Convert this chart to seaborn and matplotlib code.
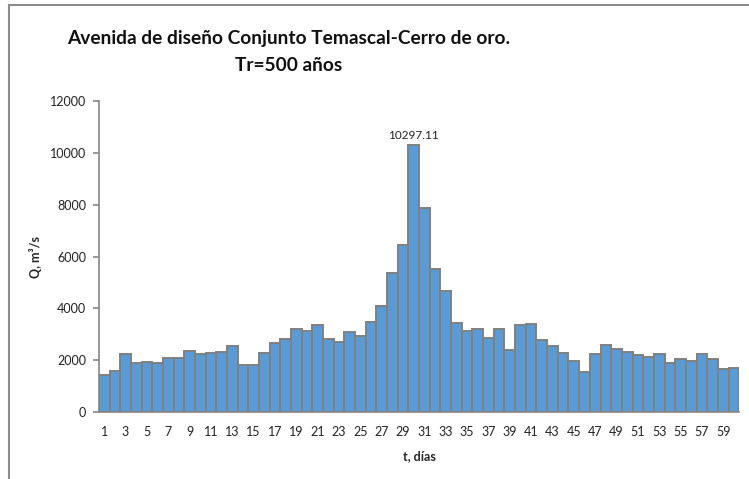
import pandas as pd
import matplotlib
matplotlib.use('Agg')
import matplotlib.pyplot as plt
import seaborn as sns
from matplotlib.patches import Rectangle

# Datos: caudal diario de la avenida de diseño (Tr=500 años)
dias = list(range(1, 61))
caudal = [1444, 1583, 2227, 1880, 1930, 1880, 2100, 2100, 2355, 2227,
          2277, 2316, 2563, 1830, 1830, 2265, 2663, 2818, 3204, 3127,
          3347, 2818, 2690, 3076, 2950, 3462, 4080, 5365, 6435, 10297.11,
          7874, 5535, 4680, 3440, 3127, 3217, 2870, 3217, 2408, 3360,
          3398, 2780, 2537, 2277, 1983, 1545, 2240, 2576, 2434, 2316,
          2190, 2137, 2227, 1893, 2060, 1983, 2227, 2047, 1674, 1713]
etiquetas_x = [str(d) for d in dias[::2]]
ticks_y = [0, 2000, 4000, 6000, 8000, 10000, 12000]

df = pd.DataFrame({'dia': dias, 'Q': caudal})

sns.set_theme(style='white')
plt.rcParams['font.family'] = ['Lato', 'DejaVu Sans']

fig = plt.figure(figsize=(7.49, 4.79), dpi=100)
ax = fig.add_axes([0.132, 0.140, 0.855, 0.649])

sns.barplot(data=df, x='dia', y='Q', color='#5B9BD5', saturation=1,
            width=1.0, edgecolor='#808080', linewidth=1.4, ax=ax)

# etiqueta solo en el pico
pico = df['Q'].idxmax()
labels = ['' if i != pico else f'{df.loc[i, "Q"]:.2f}' for i in range(len(df))]
ax.bar_label(ax.containers[0], labels=labels, padding=3, fontsize=8.5, color='#222222')

ax.set_xlim(-0.5, len(dias) - 0.5)
ax.set_ylim(0, 12000)
ax.set_yticks(ticks_y)
ax.set_yticklabels([str(t) for t in ticks_y])
ax.set_xticks(range(0, len(dias), 2))
ax.set_xticklabels(etiquetas_x)

for s in ['top', 'right']:
    ax.spines[s].set_visible(False)
for s in ['left', 'bottom']:
    ax.spines[s].set_color('#868686')
    ax.spines[s].set_linewidth(1.2)
ax.tick_params(axis='y', length=4, width=1.2, color='#868686', labelsize=9,
               labelcolor='#222222', direction='out', left=True, pad=5)
ax.tick_params(axis='x', length=0, labelsize=9, labelcolor='#222222', pad=10)

ax.set_xlabel('t, días', fontsize=9, fontweight='bold', labelpad=9)
ax.set_ylabel('Q, m³/s', fontsize=9, fontweight='bold', labelpad=6)

fig.text(0.385, 0.892, 'Avenida de diseño Conjunto Temascal-Cerro de oro.\nTr=500 años',
         ha='center', va='center', fontsize=13.8, fontweight='bold',
         linespacing=1.7, color='#111111')

# marco del gráfico (recortado a derecha y abajo)
fig.patches.append(Rectangle((9 / 749, -0.05), 1.2, 1 - 5 / 479 + 0.05,
                             transform=fig.transFigure, fill=False,
                             edgecolor='#8c8c8c', linewidth=1.5))

fig.savefig('out.png', dpi=100)
